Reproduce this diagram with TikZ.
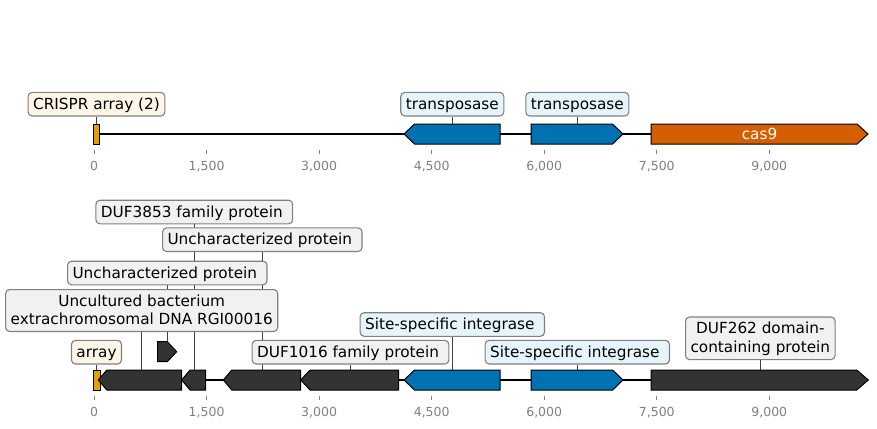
\documentclass[tikz,border=0pt]{standalone}
\usepackage{fontspec}
\setmainfont{DejaVu Sans}
\usetikzlibrary{backgrounds}
\definecolor{corange}{HTML}{E69F00}
\definecolor{cblue}{HTML}{0072B2}
\definecolor{cverm}{HTML}{D55E00}
\definecolor{cdark}{HTML}{333333}
\definecolor{fcream}{HTML}{FDF5E6}
\definecolor{fblue}{HTML}{E6F4FB}
\definecolor{fgray}{HTML}{F1F1F1}
\definecolor{bordergray}{HTML}{808080}
\definecolor{tickgray}{HTML}{808080}
\newcommand\mytopstrut{\rule{0pt}{12.5pt}}
\newcommand\mybotstrut{\rule[-2.5pt]{0pt}{2.5pt}}
\tikzset{
  lbl/.style={draw=bordergray, line width=1.1pt, rounded corners=4pt,
    inner xsep=5pt, inner ysep=4.3pt, text height=12.5pt, text depth=2.5pt,
    font=\fontsize{15.28}{18.3}\selectfont, text=black},
  lbltwo/.style={draw=bordergray, line width=1.1pt, rounded corners=4pt,
    inner xsep=5pt, inner ysep=4.3pt, align=center,
    font=\fontsize{15.28}{18.3}\selectfont, text=black},
  conn/.style={draw=black!75, line width=0.9pt},
  feat/.style={draw=black, line width=1pt, line join=miter},
  backbone/.style={draw=black, line width=2pt},
  tickmark/.style={draw=tickgray, line width=1pt},
  ticklbl/.style={text=tickgray, font=\fontsize{12.5}{15}\selectfont, anchor=base, inner sep=0pt},
}
\begin{document}
\begin{tikzpicture}[x=1pt,y=-1pt]
\useasboundingbox (0,0) rectangle (877,428);

% ---------- top track ----------
\coordinate (tstart) at (94,134);
\coordinate (tend) at (868,134);
\coordinate (fcrispr) at (96.5,124);
\coordinate (ftr1) at (452.3,124);
\coordinate (ftr2) at (577.3,124);

\draw[feat, fill=corange] (93.3,124) rectangle (99.5,144);
\draw[feat, fill=cblue] (500,124) -- (414.5,124) -- (404,134) -- (414.5,144) -- (500,144) -- cycle;
\draw[feat, fill=cblue] (531,124) -- (612.5,124) -- (623,134) -- (612.5,144) -- (531,144) -- cycle;
\draw[feat, fill=cverm] (651,124) -- (857,124) -- (868,134) -- (857,144) -- (651,144) -- cycle;
\node[text=white, font=\fontsize{15.28}{18.3}\selectfont, inner sep=0pt] (cas9) at (759.5,134) {cas9};

\node[lbl, fill=fcream] (lcrispr) at (96.5,104.2) {CRISPR array (2)};
\node[lbl, fill=fblue] (ltr1) at (452.3,104.2) {transposase};
\node[lbl, fill=fblue] (ltr2) at (577.3,104.2) {transposase};

% ticks top
\foreach \x/\t [count=\i] in {94/0, 206.6/{1,500}, 319.1/{3,000}, 431.7/{4,500}, 544.2/{6,000}, 656.8/{7,500}, 769.3/{9,000}} {
  \draw[tickmark] (\x,149.5) -- (\x,154.4);
  \node[ticklbl] (ta\i) at (\x,170.7) {\t};
}

% ---------- bottom track ----------
\coordinate (bstart) at (94,380);
\coordinate (bend) at (868,380);
\coordinate (farray) at (96.5,370);
\coordinate (fb1) at (141.7,370);
\coordinate (ffl) at (167.3,341.7);
\coordinate (fb2) at (194.3,370);
\coordinate (fb3) at (262.3,370);
\coordinate (fb4) at (350.5,370);
\coordinate (fb5) at (452.3,370);
\coordinate (fb6) at (577.3,370);
\coordinate (fb7) at (760.3,370);

\draw[feat, fill=corange] (93.3,370) rectangle (100.5,390);
\draw[feat, fill=cdark] (181.7,370) -- (106.8,370) -- (98.3,380) -- (106.8,390) -- (181.7,390) -- cycle;
\draw[feat, fill=cdark] (205.7,370) -- (190,370) -- (181.7,380) -- (190,390) -- (205.7,390) -- cycle;
\draw[feat, fill=cdark] (300.7,370) -- (231.8,370) -- (223.3,380) -- (231.8,390) -- (300.7,390) -- cycle;
\draw[feat, fill=cdark] (398.5,370) -- (310,370) -- (300.7,380) -- (310,390) -- (398.5,390) -- cycle;
\draw[feat, fill=cblue] (500,370) -- (414.5,370) -- (404,380) -- (414.5,390) -- (500,390) -- cycle;
\draw[feat, fill=cblue] (531,370) -- (612.7,370) -- (623,380) -- (612.7,390) -- (531,390) -- cycle;
\draw[feat, fill=cdark] (651,370) -- (856.7,370) -- (868.3,380) -- (856.7,390) -- (651,390) -- cycle;
\draw[feat, fill=cdark] (157.7,341.7) -- (167.3,341.7) -- (176.7,351.7) -- (167.3,361.7) -- (157.7,361.7) -- cycle;

\node[lbl, fill=fgray] (lduf3853) at (194.3,212) {DUF3853 family protein\kern4.9pt};
\node[lbl, fill=fgray] (lunc2) at (262.3,239.7) {Uncharacterized protein\kern4.9pt};
\node[lbl, fill=fgray] (lunc1) at (167.3,273) {Uncharacterized protein\kern4.9pt};
\node[lbltwo, fill=fgray] (lunc) at (141.7,310.5) {\mytopstrut Uncultured bacterium\\extrachromosomal DNA RGI00016\mybotstrut};
\node[lbl, fill=fblue] (lssi1) at (452.3,324.5) {Site-specific integrase\kern4.9pt};
\node[lbl, fill=fcream] (larray) at (96.5,352.2) {array};
\node[lbl, fill=fgray] (lduf1016) at (350.5,352.2) {DUF1016 family protein\kern4.9pt};
\node[lbl, fill=fblue] (lssi2) at (577.3,352.2) {Site-specific integrase\kern4.9pt};
\node[lbltwo, fill=fgray] (lduf262) at (760.3,338.3) {\mytopstrut DUF262 domain-\\containing protein\mybotstrut};

% ticks bottom
\foreach \x/\t [count=\i] in {94/0, 206.6/{1,500}, 319.1/{3,000}, 431.7/{4,500}, 544.2/{6,000}, 656.8/{7,500}, 769.3/{9,000}} {
  \draw[tickmark] (\x,395.5) -- (\x,400.4);
  \node[ticklbl] (tb\i) at (\x,416.7) {\t};
}

% ---------- background: backbones and connectors ----------
\begin{scope}[on background layer]
  \fill[white] (0,0) rectangle (877,428);
  \draw[backbone] (tstart) -- (tend);
  \draw[backbone] (bstart) -- (bend);
  \draw[conn] (lcrispr.south) -- (fcrispr);
  \draw[conn] (ltr1.south) -- (ftr1);
  \draw[conn] (ltr2.south) -- (ftr2);
  \draw[conn] (larray.south) -- (farray);
  \draw[conn] (lunc.south) -- (fb1);
  \draw[conn] (lunc1.south) -- (ffl);
  \draw[conn] (lduf3853.south) -- (fb2);
  \draw[conn] (lunc2.south) -- (fb3);
  \draw[conn] (lduf1016.south) -- (fb4);
  \draw[conn] (lssi1.south) -- (fb5);
  \draw[conn] (lssi2.south) -- (fb6);
  \draw[conn] (lduf262.south) -- (fb7);
\end{scope}
\end{tikzpicture}
\end{document}
